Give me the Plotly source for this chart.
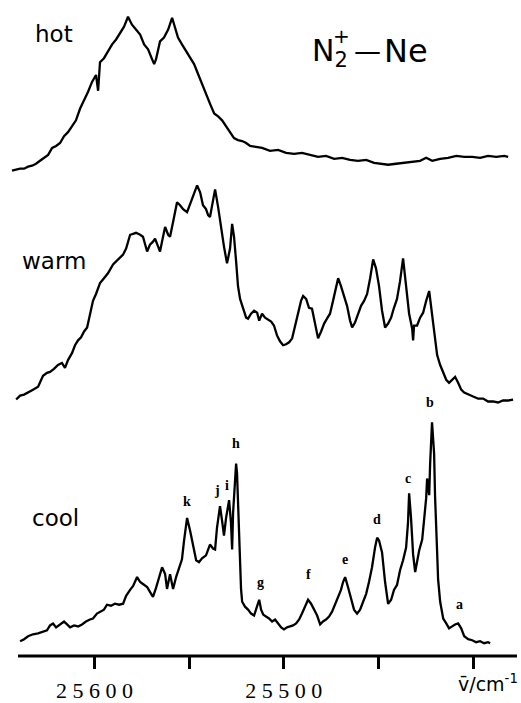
import plotly.graph_objects as go

# ---------------- data ----------------
hot_wn = [25643.6, 25641.4, 25639.3, 25637.2, 25635.1, 25633.0, 25630.9, 25628.8, 25626.7, 25624.5,
          25622.4, 25620.3, 25618.2, 25616.1, 25614.0, 25611.9, 25609.8, 25607.6, 25605.5, 25603.4,
          25601.3, 25599.2, 25598.1, 25597.1, 25595.0, 25592.9, 25590.7, 25588.6, 25586.5, 25584.4,
          25582.3, 25581.2, 25580.2, 25578.1, 25575.9, 25573.8, 25571.7, 25569.6, 25568.5, 25567.5,
          25565.4, 25563.3, 25561.1, 25559.0, 25558.0, 25555.9, 25553.8, 25551.6, 25549.5, 25547.4,
          25545.3, 25543.2, 25541.1, 25539.0, 25536.8, 25534.7, 25532.6, 25530.5, 25528.4, 25526.3,
          25524.2, 25522.0, 25519.9, 25517.8, 25514.7, 25511.5, 25507.3, 25503.0, 25498.8, 25494.6,
          25490.4, 25486.1, 25481.9, 25477.7, 25473.4, 25469.2, 25465.0, 25460.8, 25456.5, 25452.3,
          25448.1, 25444.9, 25440.7, 25436.4, 25432.2, 25428.0, 25424.8, 25421.6, 25417.4, 25413.2,
          25408.9, 25404.7, 25400.5, 25396.3, 25392.1, 25387.8, 25383.6, 25381.5]
hot_int = [0, 1, 2, 2, 4, 5, 7, 10, 13, 16,
           23, 25, 28, 35, 39, 45, 51, 63, 71, 80,
           90, 97, 81, 110, 114, 121, 128, 133, 140, 146,
           156, 151, 148, 143, 138, 128, 123, 113, 108, 113,
           131, 135, 143, 155, 148, 135, 128, 121, 115, 108,
           98, 88, 76, 68, 58, 55, 51, 45, 38, 33,
           31, 30, 28, 25, 24, 23, 20, 21, 18, 17,
           18, 16, 14, 15, 12, 13, 11, 10, 11, 8,
           7, 6, 7, 8, 9, 10, 13, 10, 12, 13,
           15, 14, 14, 13, 15, 14, 15, 14]

warm_wn = [25641.4, 25639.3, 25637.2, 25635.1, 25632.5, 25629.8, 25627.2, 25625.1, 25623.5, 25621.4,
           25619.3, 25617.2, 25615.6, 25614.0, 25611.9, 25610.3, 25608.7, 25607.1, 25605.5, 25603.9,
           25602.4, 25600.8, 25599.2, 25597.1, 25595.0, 25592.9, 25590.2, 25588.6, 25586.5, 25584.9,
           25583.3, 25581.2, 25579.6, 25578.1, 25575.9, 25574.4, 25572.2, 25570.7, 25569.1, 25568.0,
           25566.4, 25565.4, 25563.8, 25562.7, 25561.1, 25560.1, 25558.5, 25556.4, 25554.8, 25553.2,
           25551.1, 25549.5, 25547.4, 25545.8, 25544.2, 25542.7, 25541.1, 25540.0, 25539.0, 25537.9,
           25536.3, 25534.7, 25533.1, 25531.6, 25530.0, 25528.4, 25527.3, 25526.3, 25525.2, 25524.2,
           25523.1, 25521.5, 25519.9, 25518.9, 25517.3, 25515.7, 25514.1, 25513.0, 25511.5, 25509.9,
           25508.3, 25506.7, 25505.2, 25503.6, 25502.0, 25500.4, 25498.8, 25497.2, 25495.6, 25494.1,
           25492.5, 25490.9, 25489.8, 25488.2, 25486.7, 25485.1, 25483.5, 25481.9, 25480.3, 25478.7,
           25477.2, 25475.6, 25474.0, 25472.4, 25471.3, 25469.8, 25468.2, 25466.6, 25465.0, 25463.9,
           25462.4, 25460.8, 25459.2, 25457.6, 25456.0, 25454.4, 25452.8, 25451.3, 25449.7, 25448.1,
           25446.5, 25444.9, 25443.3, 25441.8, 25440.2, 25438.6, 25437.0, 25435.4, 25433.8, 25432.2,
           25431.7, 25431.2, 25429.6, 25428.0, 25426.4, 25424.8, 25423.2, 25421.6, 25420.1, 25419.0,
           25417.4, 25415.8, 25414.2, 25412.7, 25411.1, 25409.5, 25407.9, 25406.3, 25404.7, 25402.6,
           25400.0, 25397.4, 25394.7, 25392.1, 25389.5, 25386.8, 25384.2, 25381.5, 25378.9]
warm_int = [0, 4, 5, 7, 10, 13, 24, 27, 28, 31,
            35, 37, 32, 40, 47, 55, 60, 63, 69, 73,
            87, 100, 107, 118, 123, 128, 137, 140, 143, 147,
            153, 167, 168, 169, 167, 165, 150, 157, 160, 163,
            155, 150, 165, 175, 167, 165, 180, 200, 197, 193,
            190, 198, 209, 217, 210, 197, 193, 187, 185, 195,
            213, 195, 173, 155, 138, 153, 178, 165, 140, 115,
            102, 93, 83, 82, 87, 90, 88, 80, 87, 83,
            81, 79, 75, 65, 59, 55, 56, 58, 62, 75,
            87, 100, 105, 102, 93, 92, 77, 62, 69, 77,
            82, 87, 100, 115, 123, 115, 105, 95, 80, 73,
            78, 87, 95, 100, 107, 123, 142, 133, 115, 90,
            73, 77, 83, 93, 102, 120, 143, 115, 87, 72,
            60, 75, 75, 83, 88, 100, 110, 85, 60, 45,
            35, 27, 20, 17, 20, 23, 17, 10, 7, 5,
            3, 1, 1, -2, -2, -3, -1, -1, 0]

cool_wn = [25639.3, 25637.2, 25635.1, 25632.5, 25629.8, 25627.2, 25625.1, 25623.5, 25621.9, 25620.3,
           25618.2, 25616.1, 25614.5, 25612.9, 25610.8, 25608.7, 25606.6, 25604.5, 25602.4, 25600.8,
           25598.7, 25597.1, 25595.0, 25593.4, 25591.3, 25589.2, 25587.0, 25584.9, 25583.3, 25581.2,
           25579.6, 25577.5, 25575.9, 25574.4, 25572.2, 25570.7, 25569.1, 25567.5, 25565.9, 25564.3,
           25562.7, 25561.7, 25560.1, 25558.5, 25556.9, 25555.3, 25553.8, 25552.7, 25551.1, 25549.5,
           25547.9, 25546.3, 25544.8, 25543.2, 25541.1, 25539.0, 25537.4, 25536.3, 25535.3, 25533.7,
           25532.6, 25531.6, 25530.5, 25528.9, 25527.9, 25527.3, 25526.8, 25525.7, 25525.2, 25524.7,
           25523.6, 25522.6, 25522.0, 25520.5, 25518.9, 25517.3, 25515.7, 25514.1, 25513.0, 25512.0,
           25510.9, 25509.4, 25507.8, 25506.2, 25504.6, 25503.0, 25501.4, 25499.9, 25498.3, 25496.7,
           25495.1, 25493.5, 25491.9, 25490.4, 25488.8, 25487.2, 25485.6, 25484.0, 25482.4, 25480.8,
           25479.3, 25477.7, 25476.1, 25474.5, 25472.9, 25471.3, 25469.8, 25468.7, 25467.6, 25466.1,
           25464.5, 25462.9, 25461.3, 25459.7, 25458.1, 25456.5, 25455.0, 25453.4, 25451.8, 25450.7,
           25449.7, 25448.1, 25446.5, 25444.9, 25443.3, 25441.8, 25440.2, 25438.6, 25437.0, 25435.4,
           25434.4, 25433.8, 25432.8, 25431.7, 25430.6, 25429.6, 25428.5, 25426.9, 25425.9, 25424.8,
           25424.3, 25423.2, 25422.7, 25422.2, 25421.7, 25420.6, 25420.1, 25419.0, 25418.5, 25417.4,
           25415.8, 25414.2, 25412.7, 25411.1, 25409.5, 25407.9, 25406.3, 25404.7, 25402.6, 25400.5,
           25398.4, 25396.3, 25394.2, 25392.1, 25391.0]
cool_int = [2, 4, 7, 9, 10, 12, 13, 18, 20, 16,
            19, 22, 19, 16, 18, 17, 19, 22, 24, 25,
            30, 32, 34, 39, 38, 40, 39, 40, 48, 54,
            58, 67, 62, 60, 57, 52, 47, 56, 67, 77,
            70, 55, 70, 55, 67, 77, 85, 104, 127, 114,
            97, 84, 82, 86, 89, 100, 96, 95, 117, 139,
            124, 109, 127, 145, 122, 95, 132, 170, 182, 172,
            99, 55, 42, 37, 34, 30, 28, 37, 44, 34,
            29, 27, 25, 22, 24, 20, 16, 14, 16, 17,
            18, 20, 24, 30, 37, 44, 40, 34, 28, 19,
            22, 24, 27, 32, 40, 47, 54, 62, 67, 57,
            44, 34, 30, 34, 42, 50, 62, 77, 97, 107,
            104, 92, 62, 40, 44, 54, 59, 74, 84, 97,
            122, 152, 127, 90, 72, 82, 94, 105, 122, 147,
            167, 150, 182, 207, 224, 192, 149, 92, 65, 42,
            25, 20, 15, 17, 19, 20, 15, 7, 4, 3,
            1, 2, 0, 1, 0]

trace_names = ["hot", "warm", "cool"]
trace_offsets = [492, 260, 13]

peak_labels = ["k", "j", "i", "h", "g", "f", "e", "d", "c", "b", "a"]
peak_label_wn = [25551.1, 25535.3, 25530.0, 25525.2, 25512.5, 25487.2, 25467.6, 25450.7, 25434.4, 25422.7, 25407.4]
peak_label_int = [144, 155, 160, 202, 62, 70, 85, 125, 167, 244, 39]

tick_vals = [25600, 25500]
tick_text = ["2 5 6 0 0", "2 5 5 0 0"]
minor_tick_step = 50

x_range = [25645.7, 25374.7]
y_range = [0, 665]

# ---------------- figure ----------------
fig = go.Figure()
series = [(hot_wn, hot_int), (warm_wn, warm_int), (cool_wn, cool_int)]
for (wn, inten), name, off in zip(series, trace_names, trace_offsets):
    fig.add_trace(go.Scatter(
        x=wn, y=[v + off for v in inten], mode="lines", name=name,
        line=dict(color="black", width=2.3), hoverinfo="skip", showlegend=False))

for lab, wn, inten in zip(peak_labels, peak_label_wn, peak_label_int):
    fig.add_annotation(x=wn, y=inten + trace_offsets[2], text="<b>" + lab + "</b>", showarrow=False,
                       xref="x", yref="y", xanchor="center", yanchor="middle",
                       font=dict(family="Liberation Serif", size=14, color="black"))

W, H = 521, 703
L, R, T, B = 8, 0, 0, 38
pw, ph = W - L - R, H - T - B

def px(x):
    return (x - L) / pw

def py(y):
    return 1 - (y - T) / ph

name_pos = [(33, 34), (20, 265), (30, 525)]
for name, (x0, y0) in zip(trace_names, name_pos):
    fig.add_annotation(x=px(x0), y=py(y0), xref="paper", yref="paper", text=name,
                       showarrow=False, xanchor="left", yanchor="middle",
                       font=dict(family="DejaVu Sans", size=23, color="black"))

# title N2+ - Ne
fig.add_annotation(x=px(310), y=py(53), xref="paper", yref="paper",
                   text="N<sub>2</sub>", showarrow=False, xanchor="left", yanchor="middle",
                   font=dict(family="DejaVu Sans", size=30, color="black"))
fig.add_annotation(x=px(341), y=py(36), xref="paper", yref="paper",
                   text="+", showarrow=False, xanchor="center", yanchor="middle",
                   font=dict(family="DejaVu Sans", size=20, color="black"))
fig.add_annotation(x=px(352), y=py(51), xref="paper", yref="paper",
                   text="\u2014", showarrow=False, xanchor="left", yanchor="middle",
                   font=dict(family="DejaVu Sans", size=27, color="black"))
fig.add_annotation(x=px(382), y=py(52), xref="paper", yref="paper",
                   text="Ne", showarrow=False, xanchor="left", yanchor="middle",
                   font=dict(family="DejaVu Sans", size=32, color="black"))

# unit label
fig.add_annotation(x=px(520), y=py(692), xref="paper", yref="paper",
                   text="v\u0304/cm<sup>-1</sup>", showarrow=False, xanchor="right", yanchor="middle",
                   font=dict(family="DejaVu Sans", size=19, color="black"))

# axis baseline
fig.add_shape(type="line", xref="paper", yref="paper", x0=px(18), x1=px(517), y0=0, y1=0,
              line=dict(color="black", width=3))

fig.update_layout(
    width=W, height=H, margin=dict(l=L, r=R, t=T, b=B, pad=0),
    paper_bgcolor="white", plot_bgcolor="white",
    xaxis=dict(range=x_range, showgrid=False, zeroline=False, showline=False,
               ticks="outside", ticklen=12, tickwidth=2.5, tickcolor="black",
               tickvals=tick_vals, ticktext=tick_text, ticklabelstandoff=3,
               minor=dict(ticks="outside", ticklen=12, tickwidth=2.5, tickcolor="black",
                          tick0=25400, dtick=minor_tick_step, showgrid=False),
               tickfont=dict(family="Liberation Serif", size=22, color="black"), fixedrange=True),
    yaxis=dict(range=y_range, visible=False, fixedrange=True),
)

fig.write_html("out.html", config={"displayModeBar": False},
               post_script="document.body.style.margin='0px';document.body.style.padding='0px';")
